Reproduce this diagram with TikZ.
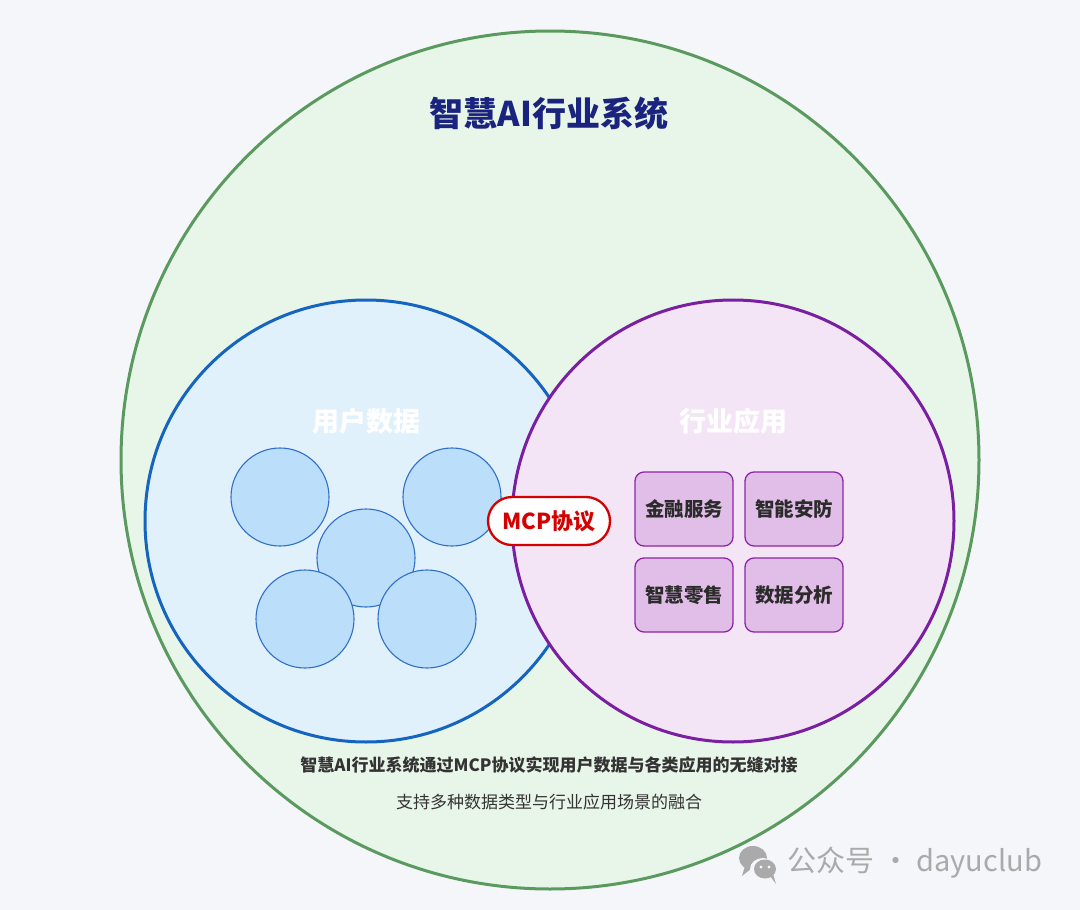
\documentclass[tikz,border=0pt]{standalone}
\usepackage{fontspec}
\setmainfont{Noto Sans CJK SC}
\usepackage{xcolor}
\usepackage{tikz}
\usetikzlibrary{positioning}

\definecolor{pagebg}{HTML}{F5F6FA}
\definecolor{outerfill}{HTML}{E8F5E9}
\definecolor{outerline}{HTML}{5A9A5E}
\definecolor{userfill}{HTML}{E1F1FC}
\definecolor{userline}{HTML}{1565C0}
\definecolor{dotfill}{HTML}{BBDEFB}
\definecolor{dotline}{HTML}{2F6FC8}
\definecolor{appfill}{HTML}{F3E5F5}
\definecolor{appline}{HTML}{7B1FA2}
\definecolor{boxfill}{HTML}{E1BEE7}
\definecolor{boxline}{HTML}{8E24AA}
\definecolor{titlecol}{HTML}{1A237E}
\definecolor{mcpred}{HTML}{D50000}
\definecolor{textcol}{HTML}{333333}
\definecolor{markgray}{HTML}{AAAAAA}

\tikzset{
  datadot/.style={circle, draw=dotline, fill=dotfill, line width=1.1pt, minimum size=98pt, inner sep=0pt},
  appbox/.style={rectangle, rounded corners=9pt, draw=boxline, fill=boxfill, line width=1.3pt,
    minimum width=98pt, minimum height=74pt, font=\fontsize{19.5}{22}\selectfont\bfseries, text=textcol!85!black},
  ringlabel/.style={font=\fontsize{27}{30}\selectfont\bfseries, text=white}
}

\begin{document}
\begin{tikzpicture}[x=1pt,y=-1pt]
  \fill[pagebg] (0,0) rectangle (1080,910);
  \useasboundingbox (0,0) rectangle (1080,910);

  \node[circle, draw=outerline, fill=outerfill, line width=3pt, minimum size=858pt, inner sep=0pt] (system) at (550,460) {};
  \node[font=\fontsize{34}{38}\selectfont\bfseries, text=titlecol] (title) at (549,114) {智慧AI行业系统};

  \node[circle, draw=userline, fill=userfill, line width=3pt, minimum size=442pt, inner sep=0pt] (user) at (366,521) {};
  \node[ringlabel] (userlabel) at (366,421) {用户数据};
  \node[datadot] (d1) at (280,497) {};
  \node[datadot] (d2) at (452,497) {};
  \node[datadot] (d3) at (366,558) {};
  \node[datadot] (d4) at (305,619) {};
  \node[datadot] (d5) at (427,619) {};

  \node[circle, draw=appline, fill=appfill, line width=3pt, minimum size=442pt, inner sep=0pt] (app) at (733,521) {};
  \node[ringlabel] (applabel) at (733,421) {行业应用};
  \node[appbox] (finance) at (684,509) {金融服务};
  \node[appbox] (security) at (794,509) {智能安防};
  \node[appbox] (retail) at (684,595) {智慧零售};
  \node[appbox] (analysis) at (794,595) {数据分析};

  \node[rectangle, rounded corners=24pt, draw=mcpred, fill=white, line width=2.3pt,
    minimum width=122pt, minimum height=48pt, font=\fontsize{22}{25}\selectfont\bfseries, text=mcpred] (mcp) at (549,521) {MCP协议};

  \node[font=\fontsize{17}{20}\selectfont\bfseries, text=textcol] (summary) at (549,765) {智慧AI行业系统通过MCP协议实现用户数据与各类应用的无缝对接};
  \node[font=\fontsize{17}{20}\selectfont, text=textcol] (note) at (549,802) {支持多种数据类型与行业应用场景的融合};

  \fill[markgray] (753,858) ellipse (14pt and 12pt);
  \fill[markgray] (745,866) -- (742,876) -- (752,868) -- cycle;
  \fill[pagebg] (763,869) ellipse (13pt and 11pt);
  \fill[markgray] (765,869) ellipse (11pt and 9.5pt);
  \fill[markgray] (770,876) -- (776,884) -- (773,874) -- cycle;
  \fill[pagebg] (761,867) circle (1.6pt) (769,867) circle (1.6pt);
  \node[font=\fontsize{29}{33}\selectfont, text=markgray, anchor=west] (mark) at (784,863) {公众号 · dayuclub};
\end{tikzpicture}
\end{document}
